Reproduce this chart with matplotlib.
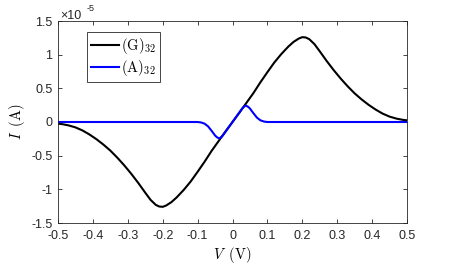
import matplotlib
matplotlib.use("Agg")
import matplotlib.pyplot as plt
from matplotlib.ticker import FuncFormatter

plt.rcParams['font.family'] = 'Liberation Sans'
plt.rcParams['mathtext.fontset'] = 'cm'
plt.rcParams['axes.unicode_minus'] = False

# values (current in units of 1e-5 A)
v_g = [-0.5, -0.49, -0.47, -0.45, -0.43, -0.41, -0.39, -0.37, -0.35, -0.33, -0.31,
       -0.29, -0.27, -0.25, -0.235, -0.22, -0.21, -0.2, -0.19, -0.175, -0.16, -0.14,
       -0.12, -0.1, -0.08, -0.06, -0.04, -0.02, 0.0, 0.02, 0.04, 0.06, 0.08, 0.1,
       0.12, 0.14, 0.16, 0.175, 0.19, 0.2, 0.21, 0.22, 0.235, 0.25, 0.27, 0.29,
       0.31, 0.33, 0.35, 0.37, 0.39, 0.41, 0.43, 0.45, 0.47, 0.49, 0.5]
i_g = [-0.025, -0.03, -0.05, -0.08, -0.125, -0.185, -0.255, -0.335, -0.425, -0.53, -0.645,
       -0.77, -0.905, -1.05, -1.155, -1.23, -1.255, -1.26, -1.24, -1.19, -1.12, -1.01,
       -0.885, -0.74, -0.59, -0.43, -0.285, -0.14, 0.0, 0.14, 0.285, 0.43, 0.59, 0.74,
       0.885, 1.01, 1.12, 1.19, 1.24, 1.26, 1.255, 1.23, 1.155, 1.05, 0.905, 0.77,
       0.645, 0.53, 0.425, 0.335, 0.255, 0.185, 0.125, 0.08, 0.05, 0.03, 0.025]

v_a = [-0.5, -0.1, -0.09, -0.08, -0.07, -0.06, -0.05, -0.045, -0.038, -0.03, -0.02,
       0.0, 0.02, 0.03, 0.038, 0.045, 0.05, 0.06, 0.07, 0.08, 0.09, 0.1, 0.5]
i_a = [0.0, 0.0, -0.007, -0.025, -0.065, -0.13, -0.2, -0.225, -0.245, -0.215, -0.145,
       0.0, 0.145, 0.215, 0.245, 0.225, 0.2, 0.13, 0.065, 0.025, 0.007, 0.0, 0.0]

scale = 1e-5
x_ticks = [-0.5, -0.4, -0.3, -0.2, -0.1, 0, 0.1, 0.2, 0.3, 0.4, 0.5]
y_ticks = [-1.5, -1, -0.5, 0, 0.5, 1, 1.5]

fig = plt.figure(figsize=(4.5, 2.64), dpi=100)
ax = fig.add_axes([58/450, 1 - 223/264, 349/450, 202/264])

ax.plot(v_g, [i * scale for i in i_g], color='black', lw=1.5, label=r'$\mathrm{(G)}_{32}$')
ax.plot(v_a, [i * scale for i in i_a], color='#0000ff', lw=1.5, label=r'$\mathrm{(A)}_{32}$')

ax.set_xlim(-0.5, 0.5)
ax.set_ylim(-1.5e-5, 1.5e-5)
ax.set_xticks(x_ticks)
ax.set_yticks([y * scale for y in y_ticks])
ax.xaxis.set_major_formatter(FuncFormatter(lambda x, p: f"{x:g}" if abs(x) > 1e-9 else "0"))
ax.yaxis.set_major_formatter(FuncFormatter(lambda y, p: f"{y/scale:g}" if abs(y) > 1e-12 else "0"))

for s in ax.spines.values():
    s.set_color('#262626')
    s.set_linewidth(0.6)
ax.tick_params(direction='in', top=True, right=True, length=3, width=0.6,
               color='#262626', labelsize=9, labelcolor='#262626')
ax.tick_params(axis='x', pad=5)
ax.tick_params(axis='y', pad=4)

ax.set_xlabel(r'$V\;\;\mathrm{(V)}$', fontsize=10.5, labelpad=2)
ax.set_ylabel(r'$I\;\;\mathrm{(A)}$', fontsize=10.5, labelpad=3)

# MATLAB style exponent above the y axis
ax.text(0.005, 0.995, '×10', transform=ax.transAxes, fontsize=9, color='#262626',
        ha='left', va='bottom')
ax.text(0.083, 1.062, '-5', transform=ax.transAxes, fontsize=6.5, color='#262626',
        ha='left', va='center')

leg = ax.legend(loc='upper left', bbox_to_anchor=(0.083, 0.945), fontsize=10.5,
                handlelength=1.9, handletextpad=0.1, borderpad=0.3, labelspacing=0.1,
                borderaxespad=0, fancybox=False, framealpha=1)
leg.get_frame().set_edgecolor('#262626')
leg.get_frame().set_linewidth(0.6)

fig.savefig('out.png', dpi=100)
